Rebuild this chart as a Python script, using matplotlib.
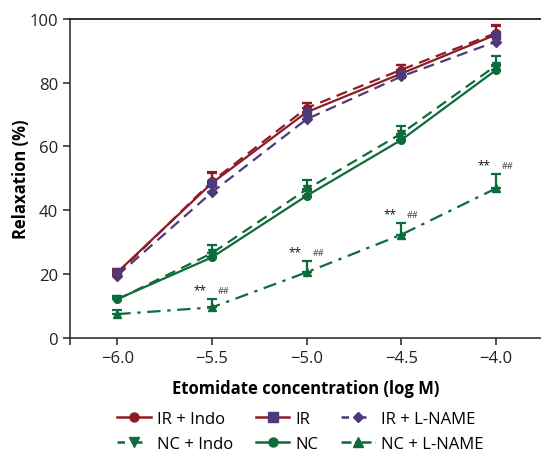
import matplotlib
matplotlib.use("Agg")
import matplotlib.pyplot as plt
from matplotlib.lines import Line2D
from matplotlib.ticker import FixedLocator

plt.rcParams['font.family'] = ['Open Sans', 'DejaVu Sans']

x = [-6.0, -5.5, -5.0, -4.5, -4.0]
xtick_labels = ["−6.0", "−5.5", "−5.0", "−4.5", "−4.0"]

ir_indo = [20.0, 49.0, 72.0, 84.0, 95.5]
ir_indo_err = [1.0, 2.5, 1.5, 1.5, 2.5]
ir = [20.5, 48.5, 70.7, 82.8, 95.0]
ir_err = [1.0, 3.6, 3.0, 2.8, 2.8]
ir_lname = [19.5, 45.6, 68.5, 81.9, 92.8]
ir_lname_err = [1.0, 1.5, 1.5, 1.5, 1.5]
nc_indo = [12.0, 26.5, 46.5, 64.0, 85.3]
nc_indo_err = [1.0, 2.5, 3.0, 2.5, 3.0]
nc = [12.1, 25.2, 44.5, 62.0, 83.9]
nc_err = [0.8, 1.5, 1.5, 1.0, 1.5]
nc_lname = [7.4, 9.5, 20.5, 32.3, 46.8]
nc_lname_err = [1.2, 2.6, 3.6, 3.6, 4.5]

RED = "#8c1d24"
PURPLE = "#4e3a7a"
GREEN = "#0e6b3b"

fig = plt.figure(figsize=(5.41, 4.56), dpi=100)
ax = fig.add_axes([0.1294, 0.2572, 0.8706, 0.6996])

def series(y, err, color, ls, marker, mfc, ms=5.5, z=3):
    ax.errorbar(x, y, yerr=[[0]*len(err), err], color=color, ls=ls, lw=1.6,
                marker=marker, ms=ms, mfc=mfc, mec=mfc, ecolor=color,
                elinewidth=1.6, capsize=3.5, capthick=1.6, zorder=z)

series(nc_lname, nc_lname_err, GREEN, (0, (6, 3, 1.5, 3)), '^', GREEN)
series(nc, nc_err, GREEN, '-', 'o', GREEN)
series(nc_indo, nc_indo_err, GREEN, (0, (5, 3)), 'v', GREEN)
series(ir_lname, ir_lname_err, PURPLE, (0, (5, 3)), 'D', PURPLE, ms=5)
series(ir_indo, ir_indo_err, RED, (0, (5, 3)), 'o', RED)
series(ir, ir_err, RED, '-', 's', PURPLE)

for xi, yi, ei in zip(x[1:], nc_lname[1:], nc_lname_err[1:]):
    ax.annotate("**", (xi, yi + ei), xytext=(-8.5, 2), textcoords='offset points',
                ha='center', va='bottom', fontsize=8.5, color='#111111')
    ax.annotate("##", (xi, yi + ei), xytext=(8.5, 3), textcoords='offset points',
                ha='center', va='bottom', fontsize=6.5, color='#444444')

ax.set_xlim(-6.25, -3.762)
ax.set_ylim(0, 100)
ax.set_xticks(x)
ax.set_xticklabels(xtick_labels)
ax.xaxis.set_minor_locator(FixedLocator([-6.25]))
ax.set_yticks([0, 20, 40, 60, 80, 100])
ax.tick_params(axis='both', which='both', direction='out', length=5, width=1.2,
               color='#333333', labelsize=12, labelcolor='#222222')
ax.tick_params(axis='x', pad=4)
for s in ['left', 'bottom', 'top']:
    ax.spines[s].set_color('#333333')
    ax.spines[s].set_linewidth(1.2)
ax.spines['top'].set_color('#111111')
ax.spines['right'].set_visible(False)

ax.set_ylabel("Relaxation (%)", fontsize=12, fontweight='bold', labelpad=0)
ax.set_xlabel("Etomidate concentration (log M)", fontsize=12, fontweight='bold', labelpad=9)

handles = [
    Line2D([], [], color=RED, ls='-', lw=1.8, marker='o', ms=6.5, mfc=RED, mec=RED),
    Line2D([], [], color=RED, ls='-', lw=1.8, marker='s', ms=6.5, mfc=PURPLE, mec=PURPLE),
    Line2D([], [], color=PURPLE, ls=(0, (3, 4)), lw=1.8, marker='D', ms=5.5, mfc=PURPLE, mec=PURPLE),
    Line2D([], [], color=GREEN, ls=(0, (3, 4)), lw=1.8, marker='v', ms=6.5, mfc=GREEN, mec=GREEN),
    Line2D([], [], color=GREEN, ls='-', lw=1.8, marker='o', ms=6.5, mfc=GREEN, mec=GREEN),
    Line2D([], [], color=GREEN, ls=(0, (4, 1.5, 1, 1.5)), lw=1.8, marker='^', ms=6.5, mfc=GREEN, mec=GREEN),
]
labels = ["IR + Indo", "IR", "IR + L-NAME", "NC + Indo", "NC", "NC + L-NAME"]
order = [0, 3, 1, 4, 2, 5]
fig.legend([handles[i] for i in order], [labels[i] for i in order], ncol=3,
           loc='center', bbox_to_anchor=(0.555, 0.052), frameon=False, fontsize=12,
           handlelength=2.0, columnspacing=1.4, handletextpad=0.35, labelspacing=0.55,
           borderpad=0.1)

fig.savefig("out.png", dpi=100)
